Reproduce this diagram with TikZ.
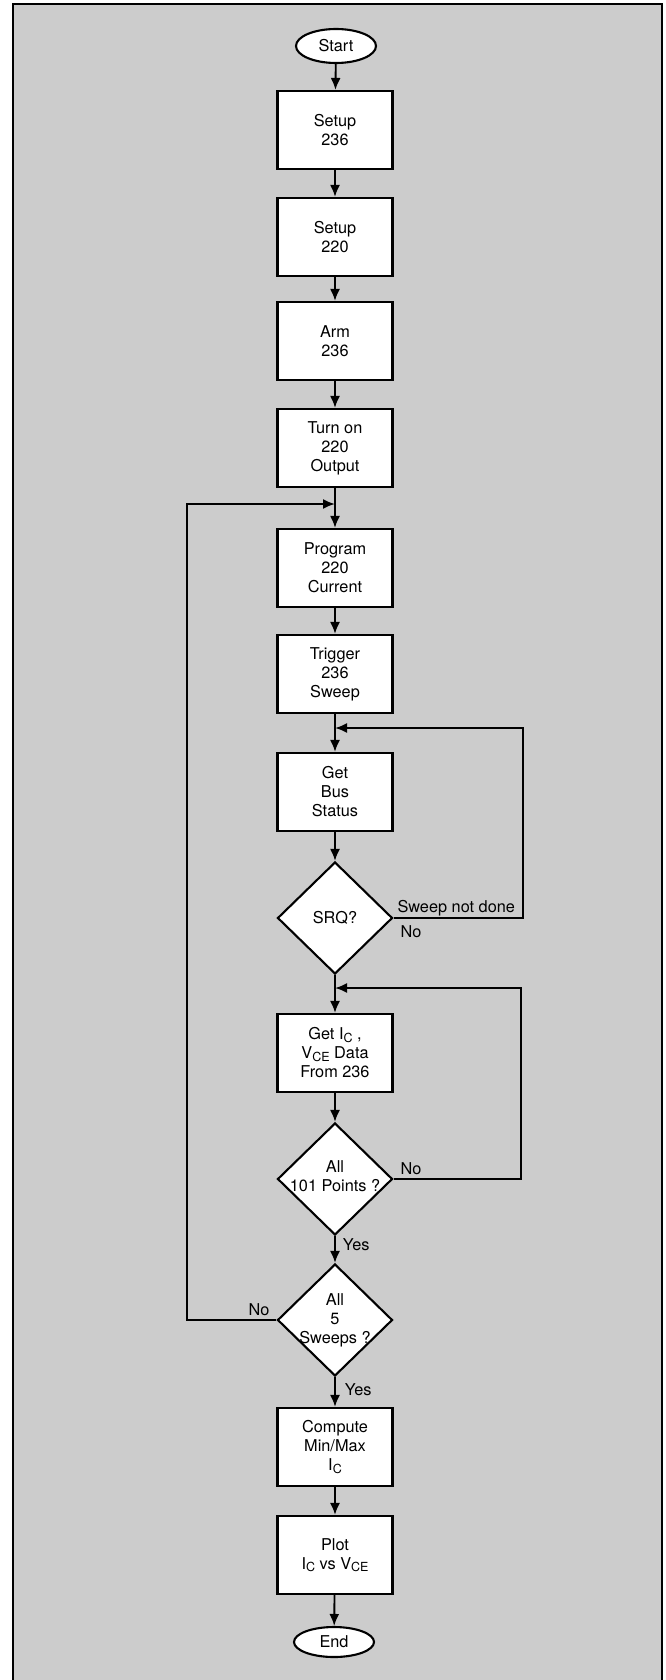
\documentclass[tikz,border=0pt]{standalone}
\usepackage{fontspec}
\setmainfont{TeX Gyre Heros}
\usetikzlibrary{arrows.meta,shapes.geometric}
\newcommand{\sbs}[1]{\raisebox{-2.5pt}{\fontsize{12.5}{12.5}\selectfont #1}}
\tikzset{
	box/.style={draw, fill=white, line width=2.1pt, minimum width=115pt, minimum height=78pt, align=center, inner sep=2pt},
	term/.style={draw, fill=white, ellipse, line width=2.1pt, minimum width=80pt, minimum height=34pt, inner sep=0pt},
	decision/.style={draw, fill=white, diamond, line width=2.1pt, minimum width=115pt, minimum height=112pt, inner sep=0pt},
	dtext/.style={align=center, inner sep=0pt},
	lbl/.style={inner sep=1pt},
}

\begin{document}
\begin{tikzpicture}[x=1pt, y=-1pt, >={Latex[length=12pt,width=10pt]}, line width=1.9pt, font=\fontsize{16.3}{19}\selectfont]
				\useasboundingbox (0,0) rectangle (665,1680);
				\fill[black!20] (13,4) rectangle (662,1680);
				\draw[line width=2.2pt] (13,1682) -- (13,4) -- (662,4) -- (662,1682);
				\coordinate (lft)  at (187,504);
				\coordinate (j1)   at (335,504);
				\coordinate (rt1)  at (523,728);
				\coordinate (j2)   at (335,728);
				\coordinate (rt2)  at (521,988);
				\coordinate (j3)   at (335,988);
				\node[term] (start) at (336,46) {Start};
				\node[box] (set236) at (335,130) {Setup\\236};
				\node[box] (set220) at (335,237) {Setup\\220};
				\node[box] (arm) at (335,341) {Arm\\236};
				\node[box] (turnon) at (335,448) {Turn on\\220\\Output};
				\node[box] (prog) at (335,568) {Program\\220\\Current};
				\node[box] (trig) at (335,674) {Trigger\\236\\Sweep};
				\node[box] (getbus) at (335,792) {Get\\Bus\\Status};
				\node[decision] (srq) at (335,918) {};
				\node[dtext] (srqtxt) at (srq) {SRQ?};
				\node[box] (getic) at (335,1053) {Get I\sbs{C} ,\\V\sbs{CE} Data\\From 236};
				\node[decision] (pts) at (335,1179) {};
				\node[dtext] (ptstxt) at ([yshift=3pt]pts) {All\\101 Points ?};
				\node[decision] (sweeps) at (335,1320) {};
				\node[dtext] (sweepstxt) at (sweeps) {All\\5\\Sweeps ?};
				\node[box] (compute) at (335,1447) {Compute\\Min/Max\\I\sbs{C}};
				\node[box] (plot) at (335,1555) {Plot\\I\sbs{C} vs V\sbs{CE}};
				\node[term, minimum height=30pt] (stop) at (334,1642) {End};
				\draw[->] (start) -- (set236);
				\draw[->] (set236) -- (set220);
				\draw[->] (set220) -- (arm);
				\draw[->] (arm) -- (turnon);
				\draw[->] (turnon) -- (prog);
				\draw[->] (prog) -- (trig);
				\draw[->] (trig) -- (getbus);
				\draw[->] (getbus) -- (srq);
				\draw[->] (srq) -- (getic);
				\draw[->] (getic) -- (pts);
				\draw[->] (pts) -- (sweeps);
				\draw[->] (sweeps) -- (compute);
				\draw[->] (compute) -- (plot);
				\draw[->] (plot) -- (stop);
				\draw[->] (sweeps.west) -| (lft) -- (j1);
				\draw[->] (srq.east) -| (rt1) -- (j2);
				\draw[->] (pts.east) -| (rt2) -- (j3);
				\node[lbl, anchor=south west] (notdone) at ([xshift=2pt]srq.east) {Sweep not done};
				\node[lbl, anchor=north west] (srqno) at ([xshift=5pt,yshift=-6pt]srq.east) {No};
				\node[lbl, anchor=south west] (ptsno) at ([xshift=5pt,yshift=2pt]pts.east) {No};
				\node[lbl, anchor=north west] (ptsyes) at ([xshift=6pt,yshift=-1pt]pts.south) {Yes};
				\node[lbl, anchor=south east] (sweepsno) at ([xshift=-5pt,yshift=2pt]sweeps.west) {No};
				\node[lbl, anchor=north west] (sweepsyes) at ([xshift=8pt,yshift=-5pt]sweeps.south) {Yes};
		\end{tikzpicture}
\end{document}
